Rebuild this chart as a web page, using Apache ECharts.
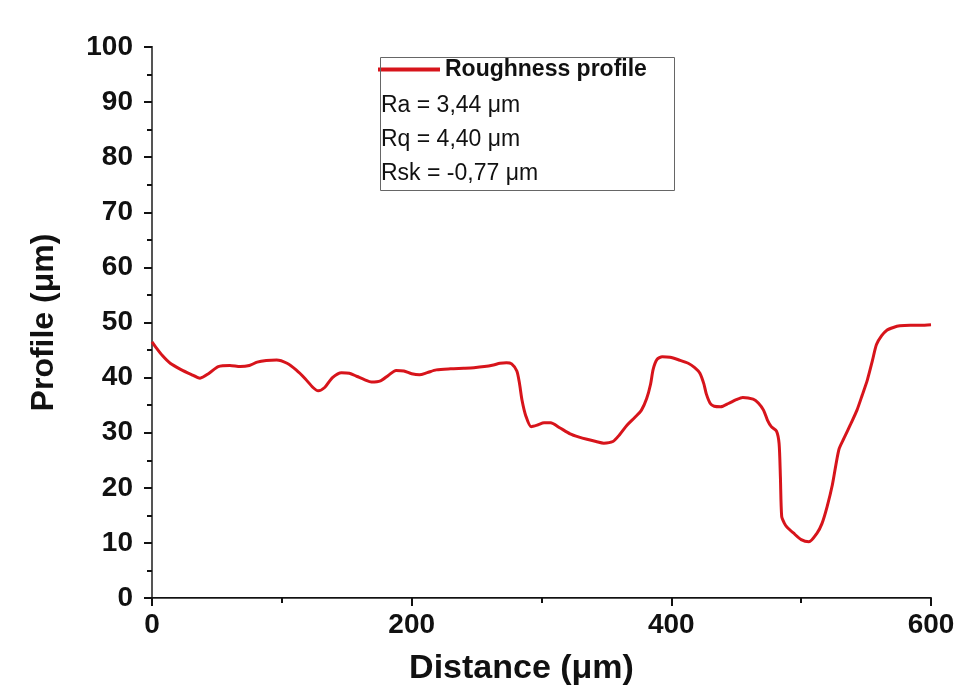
<!DOCTYPE html>
<html>
<head>
<meta charset="utf-8">
<script src="https://cdn.jsdelivr.net/npm/echarts@6/dist/echarts.min.js"></script>
<style>html,body{margin:0;padding:0;background:#fff}#c{width:969px;height:695px}</style>
</head>
<body>
<div id="c"></div>
<script>
const distance = [0, 3, 8, 14, 22, 30, 37, 44, 51, 60, 68, 75, 81, 88, 96, 104, 111, 118, 124, 128, 133, 139, 146, 152, 158, 164, 169, 176, 182, 188, 194, 200, 206, 212, 219, 230, 240, 248, 256, 263, 268, 273, 277, 281, 283, 285, 288, 292, 297, 302, 307, 314, 322, 329, 335, 342, 348, 355, 360, 366, 372, 377, 381, 384, 386, 389, 393, 399, 406, 413, 418, 422, 425, 427, 430, 433, 438, 444, 450, 455, 463, 467, 471, 474, 477, 481, 483, 484, 485, 487, 489, 494, 500, 506, 512, 516, 520, 524, 529, 533, 538, 543, 547, 551, 555, 558, 562, 566, 571, 576, 584, 592, 600];
const profile = [46.5, 45.5, 44.0, 42.6, 41.5, 40.6, 39.9, 40.8, 42.0, 42.2, 42.0, 42.2, 42.8, 43.1, 43.2, 42.6, 41.4, 39.8, 38.2, 37.6, 38.2, 40.0, 40.9, 40.8, 40.2, 39.6, 39.2, 39.4, 40.4, 41.3, 41.2, 40.7, 40.5, 40.9, 41.4, 41.6, 41.7, 41.8, 42.0, 42.3, 42.6, 42.7, 42.5, 41.2, 39.0, 35.9, 33.0, 31.1, 31.4, 31.8, 31.8, 30.9, 29.8, 29.2, 28.8, 28.4, 28.1, 28.4, 29.6, 31.4, 32.8, 34.1, 36.2, 38.8, 41.5, 43.3, 43.8, 43.7, 43.2, 42.6, 41.8, 40.8, 38.9, 37.0, 35.3, 34.8, 34.7, 35.3, 36.0, 36.4, 36.1, 35.4, 34.1, 32.3, 31.1, 30.3, 28.0, 22.0, 14.8, 13.6, 12.9, 11.8, 10.6, 10.2, 11.7, 13.5, 16.6, 20.5, 26.9, 29.0, 31.5, 34.1, 36.8, 39.6, 43.2, 46.0, 47.6, 48.6, 49.1, 49.4, 49.5, 49.5, 49.6];
const xTicks = [0, 200, 400, 600];
const yTicks = [0, 10, 20, 30, 40, 50, 60, 70, 80, 90, 100];
const seriesName = 'Roughness profile';
const statLines = ['Ra = 3,44 \u03bcm', 'Rq = 4,40 \u03bcm', 'Rsk = -0,77 \u03bcm'];

const chart = echarts.init(document.getElementById('c'), null, {renderer: 'canvas'});
const FONT = '"Liberation Sans", Arial, sans-serif';
const pts = distance.map((d, i) => [d, profile[i]]);

chart.setOption({
  animation: false,
  backgroundColor: '#ffffff',
  grid: {left: 152, top: 47, right: 38, bottom: 97, containLabel: false},
  legend: {
    data: [{name: seriesName, icon: 'rect'}],
    left: 378, top: 58,
    itemWidth: 62, itemHeight: 4, itemGap: 6,
    textStyle: {fontFamily: FONT, fontWeight: 'bold', fontSize: 23, color: '#111'},
    padding: 0
  },
  xAxis: [{
    type: 'value', min: xTicks[0], max: xTicks[xTicks.length - 1], interval: 200,
    axisLine: {show: true, onZero: false, lineStyle: {color: '#111', width: 2}},
    axisTick: {show: true, length: 8, lineStyle: {color: '#111', width: 2}},
    minorTick: {show: true, splitNumber: 2, length: 5, lineStyle: {color: '#111', width: 2}},
    splitLine: {show: false},
    axisLabel: {fontFamily: FONT, fontWeight: 'bold', fontSize: 28, color: '#111', margin: 13},
    name: 'Distance (\u03bcm)', nameLocation: 'middle', nameGap: 54,
    nameTextStyle: {fontFamily: FONT, fontWeight: 'bold', fontSize: 34, color: '#111', padding: [0, 40, 0, 0]}
  }, {
    type: 'value', position: 'top', min: 0, max: 600,
    axisLine: {show: true, lineStyle: {color: '#555', width: 1}},
    axisTick: {show: false}, axisLabel: {show: false}, splitLine: {show: false}
  }],
  yAxis: [{
    type: 'value', min: yTicks[0], max: yTicks[yTicks.length - 1], interval: 10,
    axisLine: {show: true, onZero: false, lineStyle: {color: '#111', width: 2}},
    axisTick: {show: true, length: 8, lineStyle: {color: '#111', width: 2}},
    minorTick: {show: true, splitNumber: 2, length: 5, lineStyle: {color: '#111', width: 2}},
    splitLine: {show: false},
    axisLabel: {fontFamily: FONT, fontWeight: 'bold', fontSize: 28, color: '#111', margin: 19},
    name: 'Profile (\u03bcm)', nameLocation: 'middle', nameGap: 92, nameRotate: 90,
    nameTextStyle: {fontFamily: FONT, fontWeight: 'bold', fontSize: 32, color: '#111'}
  }, {
    type: 'value', position: 'right', min: 0, max: 100,
    axisLine: {show: true, lineStyle: {color: '#555', width: 2}},
    axisTick: {show: false}, axisLabel: {show: false}, splitLine: {show: false}
  }],
  series: [{
    name: seriesName, type: 'line', data: pts, xAxisIndex: 0, yAxisIndex: 0,
    showSymbol: false, smooth: 0.25,
    lineStyle: {color: '#d7141b', width: 3}, itemStyle: {color: '#d7141b'}
  }],
  graphic: [
    {type: 'rect', left: 378, top: 55, shape: {width: 294, height: 133},
     style: {fill: 'none', stroke: '#666', lineWidth: 1}, z: 10},
    {type: 'text', left: 381, top: 94, style: {text: statLines[0], font: '23px ' + FONT, fill: '#111'}, z: 11},
    {type: 'text', left: 381, top: 128, style: {text: statLines[1], font: '23px ' + FONT, fill: '#111'}, z: 11},
    {type: 'text', left: 381, top: 162, style: {text: statLines[2], font: '23px ' + FONT, fill: '#111'}, z: 11}
  ]
});
</script>
</body>
</html>
